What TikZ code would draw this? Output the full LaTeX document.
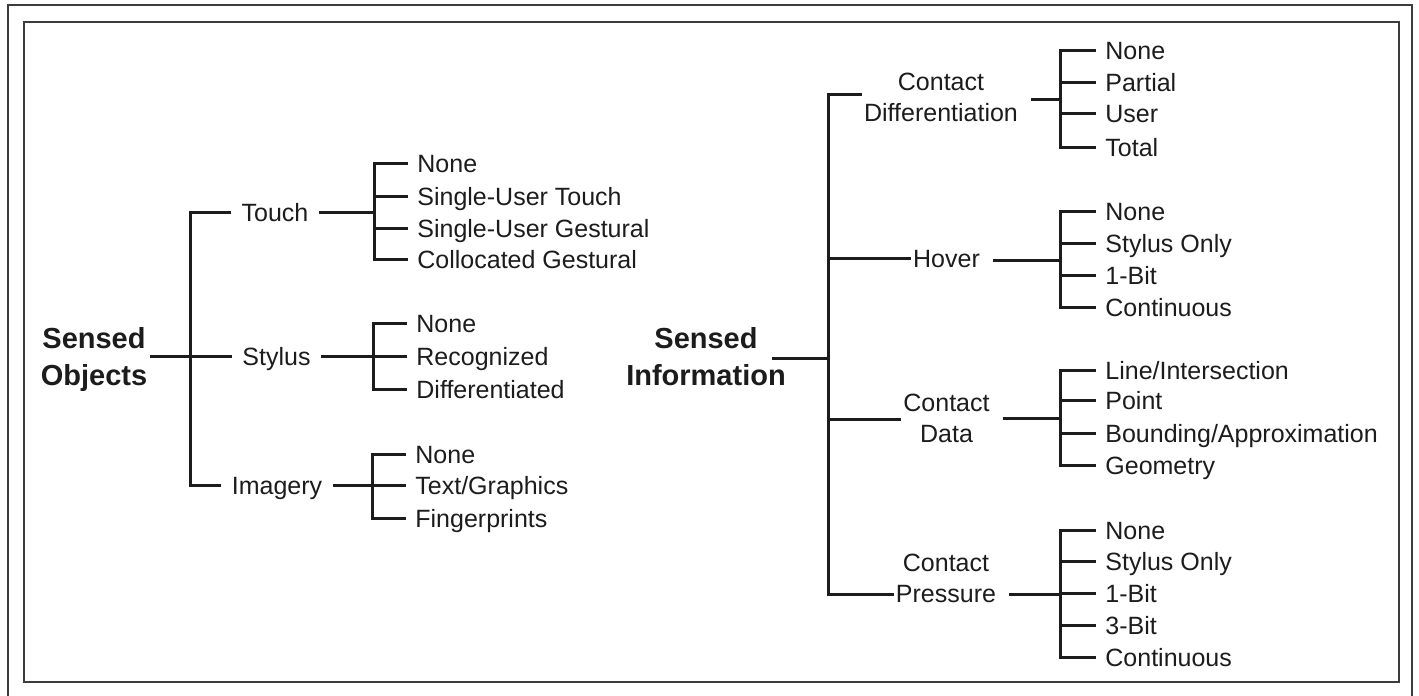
\documentclass[tikz,border=0pt]{standalone}
\usepackage{fontspec}
\setmainfont{Liberation Sans}
\definecolor{ink}{HTML}{1C1C1C}
\definecolor{framec}{HTML}{3C3C3C}
\begin{document}
\begin{tikzpicture}[x=0.5pt,y=-0.5pt,
 line/.style={line width=1.5pt,draw=ink},
 bar/.style={line width=1.5pt,draw=ink,line join=miter},
 leaf/.style={anchor=west,inner xsep=4.5pt,inner ysep=0pt,text height=9pt,text depth=0pt,text=ink,font=\fontsize{12.5}{15}\selectfont},
 lbranch/.style={inner xsep=5pt,inner ysep=0pt,text height=9pt,text depth=0pt,text=ink,font=\fontsize{12.5}{15}\selectfont},
 rbranch/.style={inner xsep=1pt,inner ysep=0pt,align=center,text=ink,font=\fontsize{12.5}{15.5}\selectfont},
 root/.style={inner xsep=1pt,inner ysep=0pt,align=center,text=ink,font=\bfseries\fontsize{14.5}{18.5}\selectfont},
 rgap/.style={shorten <=5.5pt},
 frame/.style={line width=1pt,draw=framec}]
\useasboundingbox (0,0) rectangle (1419,696);
\draw[frame] (8,698) -- (8,5) -- (1412,5) -- (1412,698);
\draw[frame] (24,22) rectangle (1399,682);

% ---------- left tree ----------
\node[root] (SO) at (94,359) {Sensed\\Objects};
\coordinate (mL) at (190,356);
\node[lbranch] (touch) at (275,212) {Touch};
\node[lbranch] (stylus) at (276.5,356) {Stylus};
\node[lbranch] (imagery) at (277,485) {Imagery};
\draw[line] (SO.east |- mL) -- (mL);
\draw[bar] (touch.west) -- (touch.west -| mL) -- (imagery.west -| mL) -- (imagery.west);
\draw[line] (stylus.west -| mL) -- (stylus.west);
\coordinate (jT) at (374,213);
\coordinate (jS) at (373,356);
\coordinate (jI) at (372,485);
\draw[line] (touch.east) -- (touch.east -| jT);
\draw[line] (stylus.east) -- (stylus.east -| jS);
\draw[line] (imagery.east) -- (imagery.east -| jI);

\node[leaf] (t1) at (408,163) {None};
\node[leaf] (t2) at (408,196) {Single-User Touch};
\node[leaf] (t3) at (408,228) {Single-User Gestural};
\node[leaf] (t4) at (408,259) {Collocated Gestural};
\draw[bar] (t1.west) -- (t1.west -| jT) -- (t4.west -| jT) -- (t4.west);
\draw[line] (t2.west -| jT) -- (t2.west);
\draw[line] (t3.west -| jT) -- (t3.west);

\node[leaf] (s1) at (407,323) {None};
\node[leaf] (s2) at (407,356) {Recognized};
\node[leaf] (s3) at (407,389) {Differentiated};
\draw[bar] (s1.west) -- (s1.west -| jS) -- (s3.west -| jS) -- (s3.west);
\draw[line] (s2.west -| jS) -- (s2.west);

\node[leaf] (i1) at (406,454) {None};
\node[leaf] (i2) at (406,485) {Text/Graphics};
\node[leaf] (i3) at (406,518) {Fingerprints};
\draw[bar] (i1.west) -- (i1.west -| jI) -- (i3.west -| jI) -- (i3.west);
\draw[line] (i2.west -| jI) -- (i2.west);

% ---------- right tree ----------
\node[root] (SI) at (706,357) {Sensed\\Information};
\coordinate (mR) at (828,358);
\draw[line] ([xshift=-8pt]SI.east |- mR) -- (mR);
\node[rbranch] (cd) at (941,97.4) {Contact\\Differentiation};
\node[rbranch] (hov) at (946.5,259) {Hover};
\node[rbranch] (cda) at (946.5,418) {Contact\\Data};
\node[rbranch] (cp) at (946,578.3) {Contact\\Pressure};
\coordinate (kCD) at (828,94);
\coordinate (kH) at (828,258);
\coordinate (kDa) at (828,419);
\coordinate (kCP) at (828,594);
\draw[bar] (kCD -| cd.west) -- (kCD) -- (kCP) -- (kCP -| cp.west);
\draw[line] (kH) -- (kH -| hov.west);
\draw[line] (kDa) -- (kDa -| cda.west);
\coordinate (jCD) at (1060,99);
\coordinate (jH) at (1060,260);
\coordinate (jDa) at (1060,418);
\coordinate (jCP) at (1060,594);
\draw[line,rgap] (jCD -| cd.east) -- (jCD);
\draw[line,rgap] (jH -| hov.east) -- (jH);
\draw[line,rgap] (jDa -| cda.east) -- (jDa);
\draw[line,rgap] (jCP -| cp.east) -- (jCP);

\node[leaf] (c1) at (1096,50) {None};
\node[leaf] (c2) at (1096,82) {Partial};
\node[leaf] (c3) at (1096,113) {User};
\node[leaf] (c4) at (1096,147) {Total};
\draw[bar] (c1.west) -- (c1.west -| jCD) -- (c4.west -| jCD) -- (c4.west);
\draw[line] (c2.west -| jCD) -- (c2.west);
\draw[line] (c3.west -| jCD) -- (c3.west);

\node[leaf] (h1) at (1096,211) {None};
\node[leaf] (h2) at (1096,243) {Stylus Only};
\node[leaf] (h3) at (1096,275) {1-Bit};
\node[leaf] (h4) at (1096,307) {Continuous};
\draw[bar] (h1.west) -- (h1.west -| jH) -- (h4.west -| jH) -- (h4.west);
\draw[line] (h2.west -| jH) -- (h2.west);
\draw[line] (h3.west -| jH) -- (h3.west);

\node[leaf] (d1) at (1096,370) {Line/Intersection};
\node[leaf] (d2) at (1096,400) {Point};
\node[leaf] (d3) at (1096,433) {Bounding/Approximation};
\node[leaf] (d4) at (1096,465) {Geometry};
\draw[bar] (d1.west) -- (d1.west -| jDa) -- (d4.west -| jDa) -- (d4.west);
\draw[line] (d2.west -| jDa) -- (d2.west);
\draw[line] (d3.west -| jDa) -- (d3.west);

\node[leaf] (p1) at (1096,530) {None};
\node[leaf] (p2) at (1096,561) {Stylus Only};
\node[leaf] (p3) at (1096,593) {1-Bit};
\node[leaf] (p4) at (1096,625) {3-Bit};
\node[leaf] (p5) at (1096,657) {Continuous};
\draw[bar] (p1.west) -- (p1.west -| jCP) -- (p5.west -| jCP) -- (p5.west);
\draw[line] (p2.west -| jCP) -- (p2.west);
\draw[line] (p3.west -| jCP) -- (p3.west);
\draw[line] (p4.west -| jCP) -- (p4.west);
\end{tikzpicture}
\end{document}
